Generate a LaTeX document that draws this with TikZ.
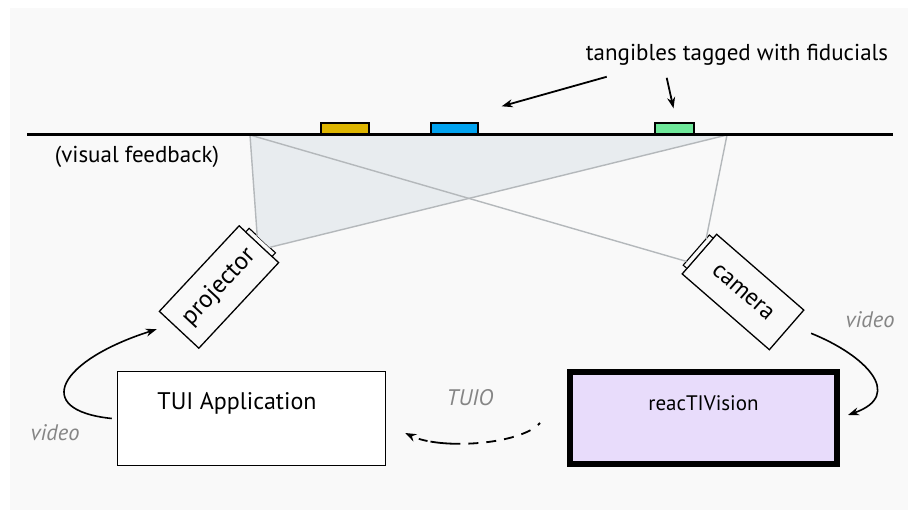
\documentclass[tikz,border=0pt]{standalone}
\usepackage{fontspec}
\setmainfont{PT Sans}
\usetikzlibrary{arrows.meta,calc}
\definecolor{bg}{HTML}{F9F9F9}
\definecolor{areashade}{HTML}{E8ECEF}
\definecolor{rayc}{HTML}{B4B8BB}
\definecolor{tagyellow}{HTML}{DDB500}
\definecolor{tagblue}{HTML}{00A3F0}
\definecolor{taggreen}{HTML}{6EE89A}
\definecolor{lavender}{HTML}{E8DCFB}
\definecolor{labelgray}{HTML}{858585}
\begin{document}
\begin{tikzpicture}[x=1pt,y=-1pt,
  tagbox/.style={draw=black,line width=1.4pt,minimum height=11pt,inner sep=0pt},
  devbox/.style={draw=black,line width=1.3pt,fill=bg,inner sep=0pt},
  ray/.style={draw=rayc,line width=1.4pt},
  lens/.style={draw=black,line width=1.1pt,fill=bg},
  txt/.style={font=\fontsize{23}{26}\selectfont,inner sep=0pt},
  glabel/.style={font=\fontsize{22.5}{25}\selectfont\itshape,text=labelgray,inner sep=0pt},
  arr/.style={draw=black,line width=1.6pt,-{Stealth[length=11pt,width=8pt]}}
]
\useasboundingbox (0,0) rectangle (908,518);
\fill[bg] (10,8) rectangle (908,510);

% table edge points
\coordinate (pl) at (250,135);
\coordinate (pr) at (727,135);

% devices
\node[devbox,rotate=47,minimum width=117pt,minimum height=54pt,font=\fontsize{25}{28}\selectfont] (proj) at (219,287) {projector};
\node[devbox,rotate=-41,minimum width=115.5pt,minimum height=52.5pt,font=\fontsize{24}{27}\selectfont] (cam) at (743,292) {camera};

\begin{scope}[shift={(proj.center)},rotate=47]
  \draw[lens] (58.5,-18) rectangle (63.5,18);
  \coordinate (pa) at (63.5,-7);
  \coordinate (pb) at (63.5,10);
\end{scope}
\begin{scope}[shift={(cam.center)},rotate=-41]
  \draw[lens] (-62.75,-21) rectangle (-57.75,19);
  \coordinate (ca) at (-62.75,-16);
  \coordinate (cb) at (-62.75,14);
\end{scope}

% projection area and rays
\fill[areashade] (pl) -- (pr) -- (pb) -- (pa) -- cycle;
\draw[ray] (pl) -- (pa);
\draw[ray] (pr) -- (pb);
\draw[ray] (pl) -- (cb);
\draw[ray] (pr) -- (ca);

% table
\draw[line width=3pt] (27,135) -- (893,135);
\node[tagbox,fill=tagyellow,minimum width=48pt] (t1) at (345,128.5) {};
\node[tagbox,fill=tagblue,minimum width=47pt] (t2) at (454.5,128.5) {};
\node[tagbox,fill=taggreen,minimum width=39pt] (t3) at (674.5,128.5) {};

% labels top
\node[txt] (fid) at (737,55) {tangibles tagged with fiducials};
\node[txt] (vf) at (137,157) {(visual feedback)};
\draw[arr,line width=1.8pt] ($(fid.south west)+(21,11)$) -- ($(t2.north east)+(23,-16)$);
\draw[arr,line width=1.8pt] ($(fid.south west)+(81,12)$) -- ($(t3.north)+(-1,-14)$);

% boxes
\node[draw=black,line width=1.5pt,fill=white,minimum width=268pt,minimum height=94pt] (tui) at (251.5,418.5) {};
\node[txt,font=\fontsize{24}{27}\selectfont] at ($(tui.center)+(-14.5,-15.5)$) {TUI Application};
\node[draw=black,line width=6pt,fill=lavender,minimum width=267pt,minimum height=92pt] (reac) at (703.5,418) {};
\node[txt,font=\fontsize{21}{24}\selectfont] at ($(reac.center)+(0,-15)$) {reacTIVision};

% video arrows
\draw[arr] ($(tui.west)+(-5,0)$) .. controls (30,410) and (60,360) .. ($(proj.west)+(-22,-1)$);
\node[glabel] at (55,433) {video};
\draw[arr] ($(cam.east)+(24,3)$) .. controls (865,355) and (905,395) .. ($(reac.east)+(8,-3)$);
\node[glabel] at (870,320) {video};

% TUIO
\draw[arr,line width=1.8pt,dash pattern=on 3pt off 9pt on 10pt off 8pt on 10pt off 8pt on 10pt off 8pt on 10pt off 8pt on 30pt]
  ($(reac.west)+(-27,5)$) .. controls (520,445) and (440,450) .. ($(tui.east)+(19,14.5)$);
\node[glabel] at (470,398) {TUIO};
\end{tikzpicture}
\end{document}
